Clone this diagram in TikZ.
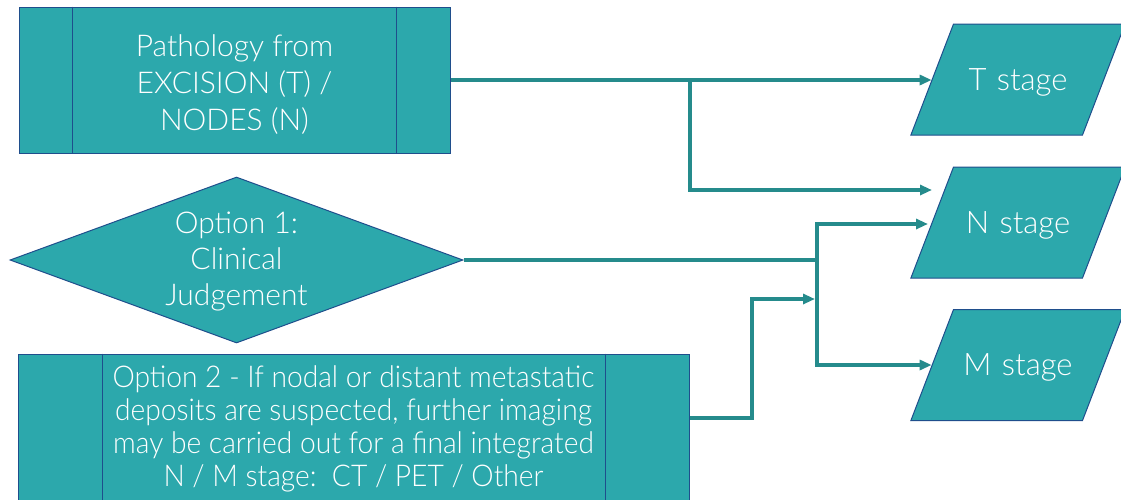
\documentclass[tikz,border=0pt]{standalone}
\usepackage{fontspec}
\setmainfont{Lato-Light.ttf}
\usetikzlibrary{arrows.meta,shapes.geometric,positioning,calc}
\definecolor{boxfill}{HTML}{2CA8AC}
\definecolor{boxline}{HTML}{1F4E8C}
\definecolor{flowline}{HTML}{258B8C}
\newcommand{\lowered}[2]{\raisebox{-#1}[\height][\depth]{\begin{tabular}{@{}c@{}}#2\end{tabular}}}
\tikzset{
  procbox/.style={draw=boxline, fill=boxfill, line width=1pt, text=white, align=center, inner sep=0pt},
  stagebox/.style={trapezium, trapezium left angle=69, trapezium right angle=111,
    draw=boxline, fill=boxfill, line width=1pt, text=white, inner sep=0pt, align=center,
    text width=129pt, text height=66pt, text depth=45pt, font=\fontsize{31}{36}\selectfont},
  flow/.style={draw=flowline, line width=3.2pt, -{Triangle[length=12pt,width=10pt]}}
}
\begin{document}
\begin{tikzpicture}[x=1pt,y=-1pt]
\clip (0,0) rectangle (1121,499);
% boxes
\node[procbox, minimum width=431pt, minimum height=146pt, font=\fontsize{30}{37}\selectfont] (path) at (234.5,80) {\lowered{6pt}{Pathology from\\EXCISION (T) /\\NODES (N)}};
\draw[boxline, line width=1pt] ($(path.north west)+(54,0)$) -- ($(path.south west)+(54,0)$);
\draw[boxline, line width=1pt] ($(path.north east)+(-54,0)$) -- ($(path.south east)+(-54,0)$);
\node[procbox, diamond, aspect=2.73, minimum width=453pt, minimum height=166pt, font=\fontsize{30}{36}\selectfont] (opt1) at (236.5,260) {\lowered{2pt}{Option 1:\\Clinical\\Judgement}};
\node[procbox, minimum width=671pt, minimum height=148pt, font=\fontsize{30}{33}\selectfont\addfontfeature{FakeStretch=0.94}] (opt2) at (353.5,428) {\lowered{2pt}{Option 2 - If nodal or distant metastatic\\deposits are suspected, further imaging\\may be carried out for a final integrated\\N / M stage:~~CT / PET / Other}};
\draw[boxline, line width=1pt] ($(opt2.north west)+(85,0)$) -- ($(opt2.south west)+(85,0)$);
\draw[boxline, line width=1pt] ($(opt2.north east)+(-84,0)$) -- ($(opt2.south east)+(-84,0)$);
% stages
\node[stagebox] (tst) at (1018,79.5) {T stage};
\node[stagebox] (nst) at (1018,222.5) {N stage};
\node[stagebox] (mst) at (1018,365) {M stage};
% junctions
\coordinate (j1) at (690,80);
\coordinate (nin1) at (932,190);
\coordinate (j2) at (817,260);
\coordinate (nin2) at (928,224);
\coordinate (j3) at (752,418);
\coordinate (j4) at (815,299);
% connectors
\draw[flow] (path.east) -- (tst.west |- path.east);
\draw[flow] (j1) |- (nin1);
\draw[flow, -] (opt1.east) -- (j2);
\draw[flow] (j2) |- (nin2);
\draw[flow] (j2) |- (mst.west);
\draw[flow] (opt2.east |- j3) -- (j3) |- (j4);
\end{tikzpicture}
\end{document}
